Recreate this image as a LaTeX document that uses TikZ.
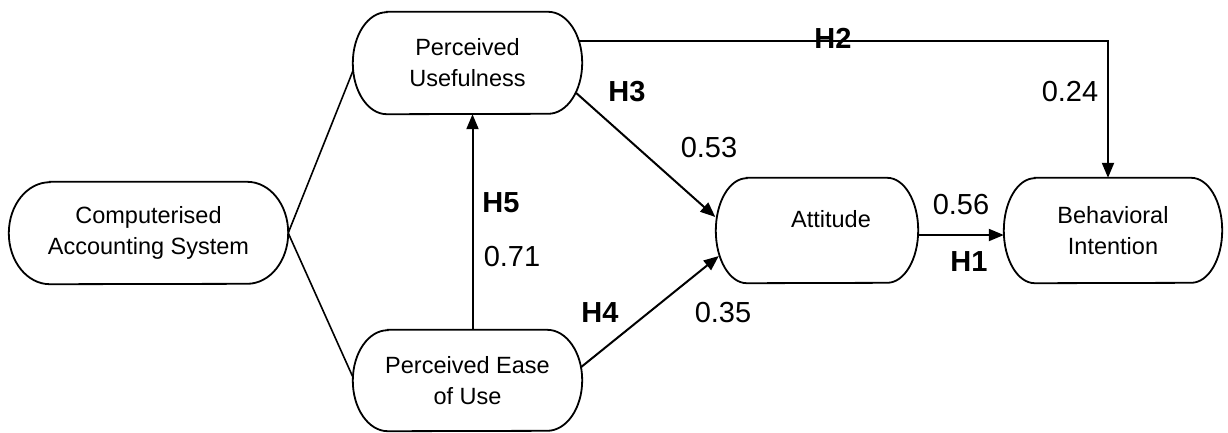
\documentclass[tikz,border=0pt]{standalone}
\usepackage{fontspec}
\setmainfont{Liberation Sans}
\usetikzlibrary{arrows.meta,calc}

\tikzset{
  boxline/.style={line width=1.8pt},
  capsulebody/.style={inner sep=0pt, align=center},
  boxtext/.style={font=\fontsize{23.5}{31}\selectfont, align=center, inner sep=0pt},
  link/.style={line width=1.6pt},
  patharrow/.style={line width=2pt, -{Triangle[length=15pt,width=12pt]}},
  weight/.style={font=\fontsize{29}{34}\selectfont, inner sep=0pt},
  hyp/.style={font=\bfseries\fontsize{29}{34}\selectfont, inner sep=0pt},
}

% capsule: straight top and bottom, half-ellipse ends
% #1 name, #2 centre, #3 width, #4 height, #5 end radius, #6 node options, #7 text
\newcommand\capsulenode[7]{%
  \node[capsulebody, boxtext, minimum width=#3, minimum height=#4, #6] (#1) at (#2) {#7};
  \draw[boxline] ([xshift=#5]#1.north west) -- ([xshift=-#5]#1.north east)
    arc[start angle=90, end angle=-90, x radius=#5, y radius=#4/2]
    -- ([xshift=#5]#1.south west)
    arc[start angle=270, end angle=90, x radius=#5, y radius=#4/2] -- cycle;
}

\begin{document}
\begin{tikzpicture}[x=1pt, y=-1pt]
  \useasboundingbox (0,0) rectangle (1228,432);

  % constructs
  \capsulenode{cas}{148.5,233}{279pt}{102pt}{41pt}{}{Computerised\\Accounting System}
  \capsulenode{pu}{467.5,63}{229pt}{102pt}{34pt}{}{Perceived\\Usefulness}
  \capsulenode{peu}{467.5,380.5}{229pt}{101pt}{35pt}{}{Perceived Ease\\of Use}
  \capsulenode{att}{817,230.5}{202pt}{105pt}{31pt}{label={[boxtext, xshift=14pt, yshift=11.5pt]center:Attitude}}{}
  \capsulenode{bi}{1113,230.5}{218pt}{105pt}{31pt}{}{Behavioral\\Intention}

  % corner of the H2 path
  \coordinate (corner) at (1108,41);

  % plain links from the system to both perceptions
  \draw[link] (cas.east) -- ($(pu.west)+(0.5,7)$);
  \draw[link] (cas.east) -- ($(peu.west)+(0.5,-2.5)$);

  % hypothesised paths
  \draw[patharrow] ($(peu.north)+(5,0)$) -- ($(pu.south)+(5,0)$);
  \draw[patharrow] ($(pu.east)+(-6,30)$) -- ($(att.west)+(-0.5,-13.5)$);
  \draw[patharrow] ($(peu.east)+(-1,-13.5)$) -- ($(att.west)+(3,25.5)$);
  \draw[patharrow] ($(att.east)+(0,4.5)$) -- ($(bi.west)+(0,4.5)$);
  \draw[patharrow] ($(pu.east)+(-3,-22)$) -- (corner) -- (corner |- bi.north);

  % hypothesis labels and path coefficients
  \node[hyp] (h2) at (833,38) {H2};
  \node[weight] (w24) at (1070,92) {0.24};
  \node[hyp] (h3) at (627,92) {H3};
  \node[weight] (w53) at (709,148) {0.53};
  \node[hyp] (h5) at (501,203) {H5};
  \node[weight] (w71) at (512,257) {0.71};
  \node[hyp] (h4) at (600,313) {H4};
  \node[weight] (w35) at (723,313) {0.35};
  \node[weight] (w56) at (961,205) {0.56};
  \node[hyp] (h1) at (969,262) {H1};
\end{tikzpicture}
\end{document}
